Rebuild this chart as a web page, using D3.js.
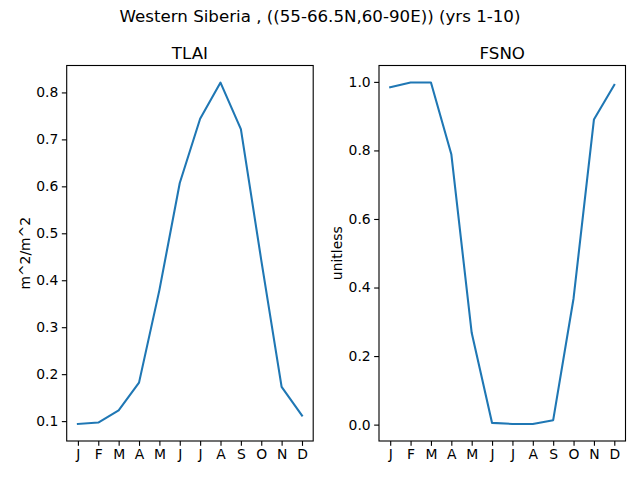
<!DOCTYPE html>
<html>
<head>
<meta charset="utf-8">
<script src="https://cdn.jsdelivr.net/npm/d3@7"></script>
<style>
body { margin: 0; background: #fff; }
svg { display: block; font-family: "DejaVu Sans", sans-serif; }
</style>
</head>
<body>
<svg id="chart" width="640" height="480"></svg>
<script>
const months = ["J","F","M","A","M","J","J","A","S","O","N","D"];
const tlai = [0.094, 0.097, 0.123, 0.182, 0.379, 0.607, 0.744, 0.821, 0.722, 0.443, 0.173, 0.112];
const fsno = [0.984, 0.998, 0.998, 0.789, 0.268, 0.005, 0.002, 0.002, 0.013, 0.368, 0.890, 0.991];
const tlaiTicks = [0.1, 0.2, 0.3, 0.4, 0.5, 0.6, 0.7, 0.8];
const fsnoTicks = [0.0, 0.2, 0.4, 0.6, 0.8, 1.0];
const suptitle = "Western Siberia , ((55-66.5N,60-90E)) (yrs 1-10)";

const svg = d3.select("#chart");
svg.append("text").attr("x", 320).attr("y", 22).attr("text-anchor", "middle")
  .attr("font-size", "16.67px").text(suptitle);

const panels = [
  {title: "TLAI", ylabel: "m^2/m^2", data: tlai, ticks: tlaiTicks, fmt: d3.format(".1f"), left: 66.7, labelX: 29.5},
  {title: "FSNO", ylabel: "unitless", data: fsno, ticks: fsnoTicks, fmt: d3.format(".1f"), left: 379, labelX: 341.5}
];
const plotTop = 65.5, plotBottom = 441, plotW = 246.5;

panels.forEach(p => {
  const idx = d3.range(months.length);
  const x = d3.scaleLinear().domain([-0.55, 11.55]).range([p.left, p.left + plotW]);
  const [mn, mx] = d3.extent(p.data);
  const pad = (mx - mn) * 0.05;
  const y = d3.scaleLinear().domain([mn - pad, mx + pad]).range([plotBottom, plotTop]);
  const g = svg.append("g");

  const xAxis = d3.axisBottom(x).tickValues(idx).tickFormat(i => months[i]).tickSize(4.86).tickPadding(3.5);
  const gx = g.append("g").attr("transform", `translate(0,${plotBottom})`).call(xAxis);
  const yAxis = d3.axisLeft(y).tickValues(p.ticks).tickFormat(p.fmt).tickSize(4.86).tickPadding(3.5);
  const gy = g.append("g").attr("transform", `translate(${p.left},0)`).call(yAxis);
  [gx, gy].forEach(a => {
    a.select(".domain").remove();
    a.selectAll("line").attr("stroke", "#000").attr("stroke-width", 1.11);
    a.selectAll("text").attr("font-size", "13.9px").attr("fill", "#000").attr("font-family", "DejaVu Sans, sans-serif");
  });

  g.append("path").datum(p.data)
    .attr("fill", "none").attr("stroke", "#1f77b4").attr("stroke-width", 2.08)
    .attr("stroke-linejoin", "round").attr("stroke-linecap", "square")
    .attr("d", d3.line().x((d, i) => x(i)).y(d => y(d)));

  g.append("rect").attr("x", p.left).attr("y", plotTop).attr("width", plotW).attr("height", plotBottom - plotTop)
    .attr("fill", "none").attr("stroke", "#000").attr("stroke-width", 1.11);

  g.append("text").attr("x", p.left + plotW / 2).attr("y", plotTop - 7).attr("text-anchor", "middle")
    .attr("font-size", "16.67px").text(p.title);

  g.append("text").attr("transform", `translate(${p.labelX},${(plotTop + plotBottom) / 2}) rotate(-90)`)
    .attr("text-anchor", "middle").attr("font-size", "13.9px").text(p.ylabel);
});
</script>
</body>
</html>
